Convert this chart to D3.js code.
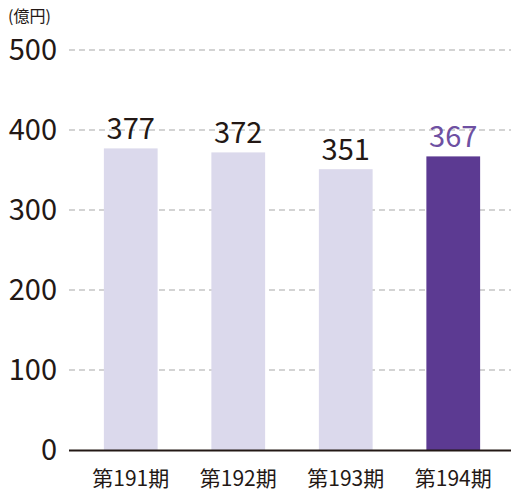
<!DOCTYPE html>
<html>
<head>
<meta charset="utf-8">
<script src="https://cdn.jsdelivr.net/npm/d3@7"></script>
<style>
  body { margin: 0; background: #fff; }
  svg text { font-family: "Noto Sans CJK JP", "Noto Sans", sans-serif; }
</style>
</head>
<body>
<div id="chart"></div>
<script>
var categories = [ "第191期", "第192期", "第193期", "第194期" ];
var values = [ 377, 372, 351, 367 ];
var yTicks = [ 0, 100, 200, 300, 400, 500 ];
var unitLabel = "(億円)";

var width = 511, height = 491;
var left = 69;

var svg = d3.select( "#chart" ).append( "svg" )
  .attr( "width", width ).attr( "height", height );

var x = d3.scaleBand().domain( categories ).range( [ 77, 507 ] )
  .paddingInner( 0.5 ).paddingOuter( 0.25 );
var y = d3.scaleLinear().domain( [ 0, 500 ] ).range( [ 450, 50 ] );

// gridlines
svg.append( "g" ).selectAll( "line" )
  .data( yTicks.filter( function( d ) { return d > 0; } ) )
  .enter().append( "line" )
  .attr( "x1", left ).attr( "x2", width )
  .attr( "y1", function( d ) { return y( d ); } )
  .attr( "y2", function( d ) { return y( d ); } )
  .attr( "stroke", "#a8a8a8" ).attr( "stroke-width", 1.2 )
  .attr( "stroke-dasharray", "6,4" );

// y tick labels
svg.append( "g" ).selectAll( "text" )
  .data( yTicks ).enter().append( "text" )
  .attr( "x", 57 ).attr( "y", function( d ) { return y( d ); } )
  .attr( "dy", "0.36em" ).attr( "text-anchor", "end" )
  .attr( "font-size", 29 ).attr( "fill", "#231815" )
  .text( function( d ) { return d; } );

svg.append( "text" )
  .attr( "x", 8 ).attr( "y", 22 )
  .attr( "font-size", 16 ).attr( "fill", "#231815" )
  .text( unitLabel );

// bars
var last = categories.length - 1;
svg.append( "g" ).selectAll( "rect" )
  .data( values ).enter().append( "rect" )
  .attr( "x", function( d, i ) { return x( categories[ i ] ); } )
  .attr( "y", function( d ) { return y( d ); } )
  .attr( "width", x.bandwidth() )
  .attr( "height", function( d ) { return y( 0 ) - y( d ); } )
  .attr( "fill", function( d, i ) { return i === last ? "#5c3a92" : "#dbd9ec"; } );

// value labels
svg.append( "g" ).selectAll( "text" )
  .data( values ).enter().append( "text" )
  .attr( "x", function( d, i ) { return x( categories[ i ] ) + x.bandwidth() / 2; } )
  .attr( "y", function( d ) { return y( d ) - 9; } )
  .attr( "text-anchor", "middle" ).attr( "font-size", 29 )
  .attr( "fill", function( d, i ) { return i === last ? "#6e50a2" : "#231815"; } )
  .text( function( d ) { return d; } );

// baseline
svg.append( "line" )
  .attr( "x1", left ).attr( "x2", width )
  .attr( "y1", y( 0 ) + 0.5 ).attr( "y2", y( 0 ) + 0.5 )
  .attr( "stroke", "#231815" ).attr( "stroke-width", 2 );

// category labels
svg.append( "g" ).selectAll( "text" )
  .data( categories ).enter().append( "text" )
  .attr( "x", function( d ) { return x( d ) + x.bandwidth() / 2; } )
  .attr( "y", 486 )
  .attr( "text-anchor", "middle" ).attr( "font-size", 21 )
  .attr( "fill", "#231815" )
  .text( function( d ) { return d; } );
</script>
</body>
</html>
